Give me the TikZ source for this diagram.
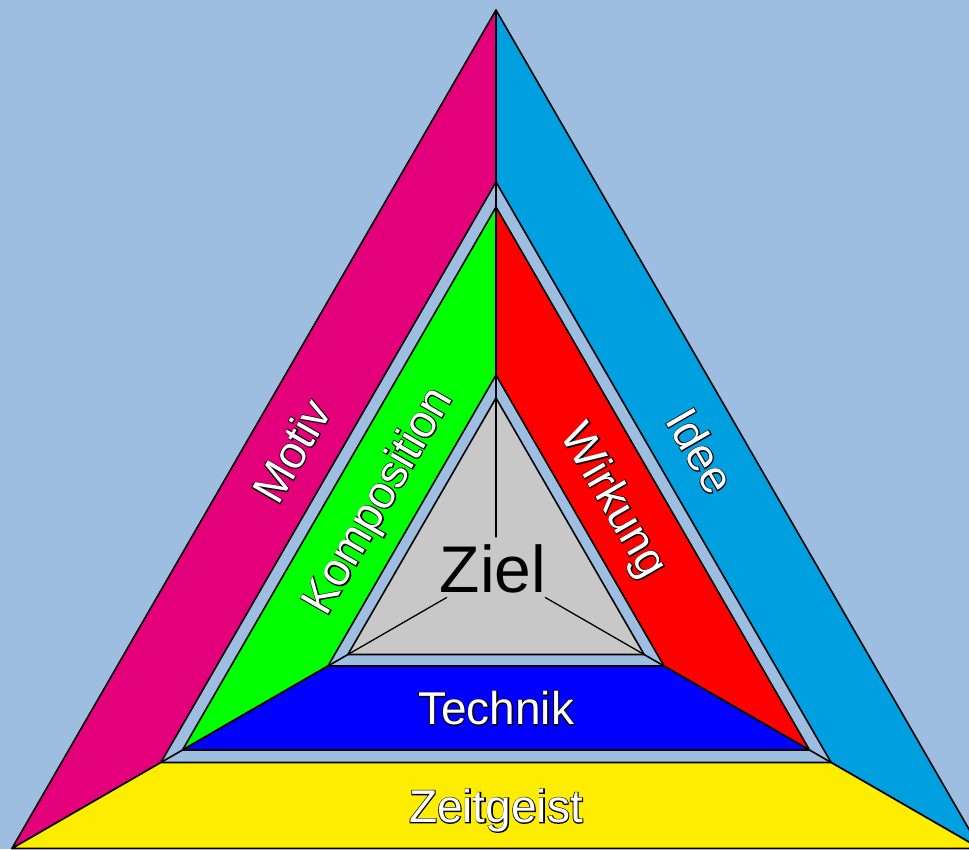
\documentclass[tikz,border=0pt]{standalone}
\usepackage{fontspec}
\setmainfont{Liberation Sans}
\newfontface\outface{Liberation Sans}[FakeBold=4]
\usetikzlibrary{calc}
\definecolor{bg}{RGB}{157,190,224}
\definecolor{cmag}{RGB}{227,0,122}
\definecolor{ccyan}{RGB}{0,159,223}
\definecolor{cyel}{RGB}{255,237,0}
\definecolor{cgreen}{RGB}{0,255,0}
\definecolor{cred}{RGB}{255,0,0}
\definecolor{cblue}{RGB}{0,0,255}
\definecolor{cgray}{RGB}{200,200,200}
\tikzset{
  edge/.style={draw=black, line width=1.6pt, line join=round},
  thin edge/.style={draw=black, line width=1.3pt, line cap=round},
  lab/.style={font=\fontsize{46}{50}\selectfont, inner sep=0pt, text height=33pt, text depth=0pt},
  labout/.style={font=\outface\fontsize{46}{50}\selectfont, inner sep=0pt, text height=33pt, text depth=0pt},
  ziel/.style={font=\fontsize{66}{70}\selectfont, inner sep=0pt, text height=47pt, text depth=0pt, text=black}
}
\newcommand\olabel[4]{%
  \node[labout,text=black,rotate=#3] (#1o) at (#2) {#4};
  \node[lab,text=white,rotate=#3] (#1) at (#2) {#4};}
\newcommand\ring[5]{% Ro, Ri, left, right, bottom colours
  \filldraw[edge, fill=#3] (270:#1) -- (150:#1) -- (150:#2) -- (270:#2) -- cycle;
  \filldraw[edge, fill=#4] (270:#1) -- (30:#1) -- (30:#2) -- (270:#2) -- cycle;
  \filldraw[edge, fill=#5] (150:#1) -- (30:#1) -- (30:#2) -- (150:#2) -- cycle;}
\begin{document}
\begin{tikzpicture}[x=1pt, y=-1pt]
\useasboundingbox (0,0) rectangle (969,849);
\clip (0,0) rectangle (969,849);
\fill[bg] (0,0) rectangle (969,849);
\begin{scope}[shift={(496,569)}]
  \coordinate (C) at (0,0);
  \ring{559}{387}{cmag}{ccyan}{cyel}
  \foreach \a in {270,150,30} {\draw[edge] (\a:387) -- (\a:362);}
  \ring{362}{194}{cgreen}{cred}{cblue}
  \foreach \a in {270,150,30} {\draw[edge] (\a:194) -- (\a:171);}
  \filldraw[edge, fill=cgray] (270:171) -- (150:171) -- (30:171) -- cycle;
  \draw[thin edge] (270:171) -- (270:32);
  \draw[thin edge] (150:171) -- (150:57);
  \draw[thin edge] (30:171) -- (30:57);
  \node[ziel] (ziel) at (-3,0) {Ziel};
  \olabel{motiv}{210:236.5}{60}{Motiv}
  \olabel{idee}{330:236.5}{-60}{Idee}
  \olabel{zeitgeist}{90:237}{0}{Zeitgeist}
  \olabel{komposition}{210:139}{60}{Komposition}
  \olabel{wirkung}{330:139}{-60}{Wirkung}
  \olabel{technik}{90:139}{0}{Technik}
\end{scope}
\end{tikzpicture}
\end{document}
